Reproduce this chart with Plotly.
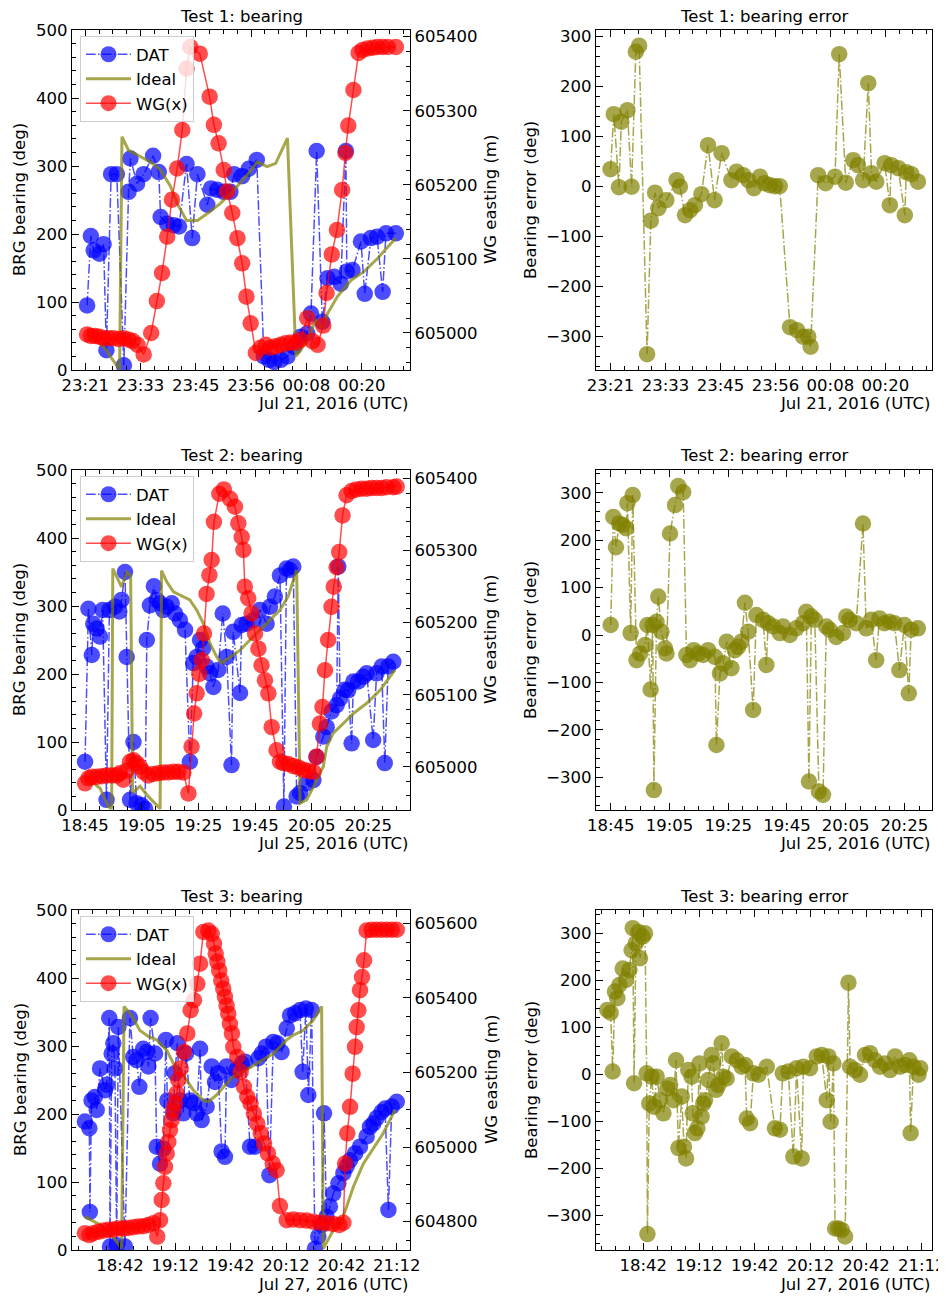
import plotly.graph_objects as go

# ---------------- DATA ----------------
# Times are minutes after 23:00 (test 1) or after 18:00 (tests 2 and 3)

# ---- Test 1 (Jul 21, 2016) ----
t1_dat_t = [21.4, 22.2, 22.8, 24.0, 24.9, 25.5, 26.5, 27.7, 29.2, 30.2, 30.6, 32.0, 33.4, 35.4, 36.6,
            37.0, 38.4, 39.8, 40.9, 42.5, 43.7, 44.8, 46.9, 47.7, 49.0, 50.4, 51.8, 52.6, 54.3, 55.7,
            57.4, 58.9, 60.0, 61.1, 62.5, 63.9, 65.3, 66.7, 68.1, 68.9, 70.1, 71.3, 72.4, 73.8, 75.2,
            76.3, 76.5, 77.7, 79.5, 80.3, 81.6, 82.9, 84.1, 84.8, 86.9]
t1_dat_v = [95, 197, 176, 171, 185, 29, 288, 288, 7, 262, 311, 274, 288, 315, 291,
            225, 215, 213, 211, 303, 194, 288, 243, 267, 265, 262, 262, 288, 285, 296,
            309, 20, 15, 12, 15, 20, 34, 49, 54, 83, 322, 71, 135, 137, 127,
            322, 145, 147, 189, 112, 194, 196, 115, 201, 201]
t1_ideal_t = [21.4, 22.2, 24.0, 25.5, 26.5, 27.7, 28.3, 28.8, 30.2, 32.7, 34.8, 37.0, 39.1, 40.5, 42.5,
              44.8, 46.9, 49.7, 52.6, 55.4, 57.5, 59.6, 61.4, 63.9, 65.7, 66.7, 68.1, 69.9, 71.3, 72.4,
              74.5, 77.4, 80.2, 83.0, 86.9]
t1_ideal_v = [60, 52, 40, 29, 18, 6, 1, 343, 323, 314, 306, 294, 270, 245, 220,
              220, 230, 245, 265, 287, 306, 299, 304, 341, 20, 29, 44, 73, 61, 83,
              108, 132, 145, 164, 194]
t1_wg_t = [21.4, 22.2, 23.1, 24.0, 24.9, 26.0, 27.0, 28.1, 29.2, 30.2, 31.1, 32.1, 33.4, 35.0, 36.2,
           37.3, 38.4, 39.4, 40.5, 41.6, 42.5, 43.3, 45.3, 47.4, 48.3, 49.3, 50.4, 51.1, 52.2, 53.3,
           54.3, 55.2, 56.1, 57.2, 58.2, 59.3, 60.3, 61.4, 62.5, 63.5, 64.6, 65.7, 66.7, 68.1, 69.2,
           70.3, 71.5, 72.2, 73.3, 74.4, 75.5, 76.2, 76.8, 77.9, 79.0, 79.8, 80.9, 82.0, 83.0, 84.1,
           85.2, 86.9]
t1_wg_v = [604998, 604996, 604996, 604995, 604993, 604993, 604993, 604992, 604993, 604991, 604989, 604984,
           604971, 605000, 605043, 605081, 605130, 605180, 605222, 605274, 605357, 605386, 605377, 605319,
           605281, 605256, 605220, 605191, 605162, 605128, 605094, 605049, 605013, 604973, 604980, 604984,
           604980, 604982, 604984, 604986, 604987, 604987, 604991, 605020, 604989, 604984, 605010, 605054,
           605106, 605139, 605193, 605243, 605280, 605328, 605378, 605382, 605384, 605385, 605386, 605386,
           605386, 605386]
t1_err_t = [21.0, 21.7, 22.8, 23.3, 24.6, 25.5, 26.4, 27.1, 28.8, 29.6, 30.5, 31.2, 32.9, 35.1, 35.8,
            36.9, 38.0, 39.0, 40.4, 41.8, 43.2, 44.7, 46.8, 47.9, 49.3, 50.4, 51.6, 52.9, 53.9, 55.0,
            56.1, 57.1, 59.3, 60.8, 62.1, 63.2, 63.7, 65.3, 66.9, 68.9, 69.8, 71.2, 72.8, 73.8, 74.9,
            76.0, 76.7, 77.7, 79.5, 80.6, 80.9, 82.4, 83.8, 84.1, 85.2, 86.6]
t1_err_v = [35, 145, -1, 130, 153, 0, 270, 282, -335, -68, -12, -43, -27, 13, 0,
            -57, -47, -37, -15, 83, -27, 67, 13, 30, 23, 13, -3, 20, 7, 3,
            1, 1, -281, -287, -300, -300, -320, 23, 7, 20, 265, 8, 53, 43, 13,
            207, 27, 10, 47, -37, 43, 37, -57, 29, 25, 10]

# ---- Test 2 (Jul 25, 2016) ----
t2_dat_t = [45.0, 46.2, 47.4, 47.9, 49.1, 50.3, 51.2, 52.6, 53.6, 55.6, 57.1, 57.9, 59.1, 59.7, 60.9,
            62.1, 63.2, 65.0, 66.2, 66.8, 67.9, 69.3, 70.3, 71.5, 72.6, 73.8, 75.6, 76.8, 78.5, 80.3,
            82.0, 83.2, 84.4, 85.6, 86.7, 87.9, 89.1, 90.3, 92.0, 93.6, 95.0, 96.7, 97.3, 99.7, 100.3,
            102.0, 104.4, 106.7, 109.1, 110.3, 112.0, 113.8, 115.2, 116.1, 117.3, 118.5, 119.7, 120.9,
            123.2, 125.6, 126.7, 129.1, 130.3, 132.0, 133.8, 134.4, 135.0, 136.7, 137.9, 139.1, 139.7,
            141.4, 143.2, 144.4, 146.7, 147.9, 149.7, 150.8, 152.0, 153.8]
t2_dat_v = [71, 296, 228, 274, 267, 255, 294, 15, 294, 299, 292, 309, 350, 225, 15,
            100, 10, 7, 2, 250, 301, 329, 309, 304, 294, 299, 304, 289, 279, 265,
            71, 216, 225, 250, 238, 211, 201, 181, 206, 289, 225, 66, 262, 172, 272,
            274, 279, 294, 274, 299, 314, 345, 5, 355, 353, 358, 20, 25,
            39, 44, 78, 108, 122, 145, 154, 358, 164, 177, 176, 98, 189,
            189, 196, 201, 103, 201, 211, 69, 211, 218]
t2_ideal_t = [45.0, 50.3, 53.2, 54.4, 54.8, 57.9, 59.7, 61.1, 61.8, 64.4, 67.3, 71.5, 72.0, 73.8, 76.2,
              79.7, 82.0, 84.4, 86.7, 89.1, 91.5, 93.2, 96.2, 99.7, 103.2, 106.7, 110.3, 113.8, 116.7,
              119.7, 120.9, 123.2, 125.6, 129.1, 130.3, 132.6, 136.1, 139.7, 144.4, 149.1, 154.4]
t2_ideal_v = [49, 32, 5, 2, 355, 328, 350, 345, 25, 35, 20, 2, 352, 336, 321,
              314, 309, 294, 275, 245, 225, 216, 225, 235, 250, 265, 279, 294, 314,
              353, 10, 15, 34, 64, 93, 113, 127, 142, 157, 176, 206]
t2_wg_t = [45.0, 46.2, 47.4, 49.1, 50.9, 52.6, 54.4, 56.2, 57.3, 58.5, 59.7, 60.9, 62.1, 63.2, 64.4,
           65.6, 67.3, 69.1, 70.9, 72.6, 74.4, 76.2, 77.9, 79.7, 81.5, 82.6, 83.5, 84.4, 85.3, 86.2,
           87.0, 87.9, 88.9, 89.7, 90.5, 92.4, 94.0, 96.2, 97.9, 99.1, 100.3, 100.9, 101.4, 102.6, 103.8,
           105.0, 106.2, 107.3, 108.5, 109.7, 110.9, 112.6, 113.8, 115.0, 116.7, 118.5, 120.3, 122.0,
           123.8, 125.6, 126.7, 127.9, 128.8, 129.7, 130.8, 132.0, 132.8, 133.8, 134.7, 135.9, 137.3,
           139.1, 140.8, 142.6, 144.4, 146.1, 147.9, 149.7, 151.4, 153.8, 155.0]
t2_wg_v = [604977, 604984, 604986, 604986, 604987, 604988, 604988, 604988, 604991, 604982, 604995, 605007,
           605009, 605005, 605000, 604993, 604988, 604990, 604991, 604992, 604992, 604993, 604993, 604992,
           604963, 605028, 605074, 605102, 605129, 605148, 605185, 605240, 605266, 605287, 605340, 605379,
           605385, 605372, 605361, 605338, 605319, 605301, 605250, 605234, 605213, 605185, 605164, 605141,
           605120, 605102, 605055, 605023, 605007, 605005, 605004, 605001, 604999, 604996, 604994, 604993,
           605014, 605060, 605083, 605134, 605176, 605222, 605250, 605277, 605298, 605349, 605377, 605383,
           605385, 605386, 605386, 605387, 605387, 605387, 605388, 605388, 605389]
t2_err_t = [45.0, 45.9, 46.8, 47.9, 49.1, 50.2, 50.7, 51.8, 52.5, 53.8, 55.0, 56.7, 57.5, 58.6, 59.3,
            59.7, 60.6, 61.2, 62.3, 63.5, 64.0, 65.2, 66.9, 68.0, 69.7, 70.8, 72.0, 73.3, 74.8, 76.5,
            78.2, 80.5, 81.0, 82.2, 83.3, 84.5, 86.1, 87.3, 88.4, 89.5, 90.7, 91.8, 93.5, 94.6, 96.9,
            98.0, 98.6, 100.3, 102.6, 103.7, 106.0, 108.2, 110.5, 111.6, 112.5, 113.3, 114.5, 115.9,
            117.3, 118.4, 119.6, 121.8, 124.1, 125.2, 126.3, 128.6, 130.9, 132.0, 133.7, 135.4, 136.5,
            138.2, 139.9, 141.6, 143.3, 145.0, 146.5, 147.3, 149.6]
t2_err_v = [21, 249, 185, 235, 232, 225, 278, 4, 295, -53, -39, -21, 21, -115, 21,
            -327, 28, 81, 7, -28, -39, 214, 274, 314, 301, -42, -53, -32, -39, -42,
            -32, -46, -232, -81, -60, -14, -70, -32, -25, -14, 68, 7, -158, 42, 32,
            -63, 25, 18, 4, 18, 0, 14, 25, 49, -309, 39, 32, -330,
            -337, 18, 11, -4, 4, 39, 32, 25, 235, 14, 32, -53, 35,
            25, 28, 25, -74, 21, -123, 11, 14]

# ---- Test 3 (Jul 27, 2016) ----
t3_dat_t = [23.0, 25.4, 25.7, 26.6, 28.4, 29.4, 31.2, 33.9, 34.8, 36.2, 36.6, 37.5, 38.4, 39.3, 40.2,
            41.1, 44.7, 47.4, 49.2, 51.0, 52.5, 54.6, 56.5, 57.4, 58.6, 61.0, 61.9, 63.7, 65.5, 66.9,
            67.7, 70.9, 71.8, 73.1, 74.5, 76.3, 77.8, 79.9, 81.8, 83.6, 85.4, 86.3, 89.0, 91.7, 93.5,
            95.3, 97.1, 98.9, 99.8, 102.5, 105.2, 108.0, 109.8, 112.5, 115.2, 117.0, 118.8, 121.1, 123.0,
            125.1, 127.3, 129.6, 132.4, 134.2, 136.9, 139.6, 141.0, 142.8, 144.1, 145.9, 147.7, 149.5,
            151.3, 152.6, 154.0, 155.8, 157.6, 160.4, 163.1, 164.9, 166.7, 169.4, 172.1, 175.7, 177.5,
            179.3, 181.1, 183.8, 185.7, 187.5, 189.3, 192.0]
t3_dat_v = [189, 179, 56, 220, 225, 206, 267, 235, 243, 341, 5, 289, 304, 267, 7,
            328, 5, 341, 284, 279, 240, 296, 291, 270, 341, 289, 152, 127, 149, 309,
            220, 201, 260, 304, 220, 201, 289, 220, 216, 201, 296, 191, 211, 270, 247,
            260, 145, 137, 270, 250, 265, 274, 277, 152, 152, 282, 289, 299, 110,
            306, 304, 291, 326, 345, 348, 353, 262, 355, 228, 353, 2, 20,
            37, 201, 49, 64, 83, 98, 113, 123, 132, 142, 152, 167, 181,
            186, 194, 203, 208, 59, 211, 218]
t3_ideal_t = [23.0, 31.2, 36.6, 42.9, 44.2, 48.3, 52.8, 57.4, 61.9, 67.3, 72.7, 76.3, 81.8, 87.2, 89.9,
              94.4, 99.8, 103.4, 110.7, 117.9, 125.1, 132.4, 136.0, 141.4, 146.8, 151.3, 152.2, 157.6,
              162.2, 164.9, 168.5, 173.9, 179.3, 184.8, 191.1]
t3_ideal_v = [49, 37, 25, 2, 358, 345, 323, 314, 309, 294, 265, 257, 235, 220, 218,
              228, 245, 255, 265, 277, 289, 309, 316, 323, 338, 358, 2, 29,
              44, 64, 93, 127, 149, 172, 206]
t3_wg_t = [23.0, 25.4, 27.5, 30.3, 33.0, 35.7, 38.4, 41.1, 43.8, 46.5, 49.2, 51.9, 54.6, 57.4, 60.1,
           62.2, 63.7, 64.6, 65.5, 66.4, 67.3, 68.2, 69.1, 70.0, 70.9, 71.8, 72.7, 73.6, 74.9, 76.7,
           78.5, 80.3, 82.1, 83.9, 85.4, 87.2, 89.9, 91.7, 93.0, 93.9, 94.8, 95.8, 96.9, 98.0, 98.9,
           99.8, 100.7, 101.6, 102.7, 103.4, 105.6, 107.4, 109.2, 111.0, 112.8, 114.6, 116.4, 118.3,
           120.1, 122.2, 124.8, 126.9, 128.7, 132.4, 136.0, 139.6, 143.2, 146.8, 150.4, 154.0, 157.6,
           160.9, 163.1, 164.0, 165.2, 166.7, 168.1, 169.4, 170.3, 171.2, 172.1, 173.2, 174.3, 175.7,
           178.4, 181.1, 183.8, 186.6, 189.3, 192.0]
t3_wg_v = [604769, 604764, 604769, 604773, 604776, 604778, 604779, 604782, 604782, 604783, 604785, 604787,
           604788, 604791, 604796, 604760, 604804, 604858, 604903, 604947, 604983, 605014, 605046, 605072,
           605099, 605117, 605144, 605180, 605211, 605255, 605305, 605367, 605394, 605438, 605492, 605577,
           605581, 605572, 605546, 605519, 605497, 605474, 605447, 605425, 605403, 605380, 605358, 605331,
           605305, 605269, 605242, 605202, 605162, 605135, 605117, 605090, 605063, 605037, 605010, 604983,
           604956, 604938, 604842, 604804, 604806, 604804, 604803, 604800, 604797, 604796, 604794, 604791,
           604797, 604956, 605037, 605108, 605197, 605269, 605322, 605367, 605421, 605456, 605501, 605581,
           605583, 605583, 605583, 605583, 605583, 605583]
t3_err_t = [22.6, 24.4, 25.5, 26.7, 28.0, 29.1, 30.9, 32.7, 34.5, 35.7, 36.3, 37.0, 38.0, 39.3, 40.2,
            41.6, 42.9, 43.8, 44.2, 45.2, 46.5, 47.7, 49.2, 51.0, 52.8, 54.9, 56.4, 58.2, 59.6, 60.9,
            62.7, 63.9, 65.0, 66.2, 68.0, 68.6, 69.8, 71.1, 72.2, 73.4, 74.3, 75.2, 77.0, 78.8, 79.7,
            81.2, 82.4, 84.2, 85.1, 86.9, 89.6, 92.3, 95.0, 96.8, 97.7, 99.5, 101.3, 104.0, 108.5, 112.9,
            115.6, 117.1, 120.1, 122.8, 124.6, 127.3, 128.2, 131.8, 135.4, 138.1, 140.8, 141.7, 142.9,
            144.4, 145.3, 147.1, 148.9, 150.7, 152.5, 153.4, 156.0, 158.7, 161.4, 164.1, 166.8, 169.5,
            172.2, 174.9, 177.6, 180.3, 183.0, 185.3, 186.0, 187.5, 190.2, 191.1]
t3_err_v = [137, 131, 6, 176, 162, 190, 225, 201, 222, 264, 311, -19, 279, 303, 247,
            293, 300, 2, -340, -62, -5, -69, -5, -55, -83, -30, -23, -55, 30, -157,
            -47, -154, -179, 9, -5, -83, -125, -115, 23, -90, -62, -55, -12, 41, 23,
            -33, -23, 66, -5, -9, 38, 30, 16, 20, -94, -104, 2, -1, 16, -115,
            -118, 2, 6, -175, 13, -179, 16, 13, 38, 41, -55, 38, -101,
            23, -328, -328, -331, -345, 195, 16, 9, -1, 41, 45, 30, 16,
            23, 9, 38, 16, 20, 30, -125, 16, -1, 13]

# Tick labels
t1_ticktext = ["23:21", "23:33", "23:45", "23:56", "00:08", "00:20"]
t2_ticktext = ["18:45", "19:05", "19:25", "19:45", "20:05", "20:25"]
t3_ticktext = ["18:42", "19:12", "19:42", "20:12", "20:42", "21:12"]
dates = ["Jul 21, 2016 (UTC)", "Jul 25, 2016 (UTC)", "Jul 27, 2016 (UTC)"]

# ---------------- LAYOUT / STYLE ----------------
VW, VH = 946, 1299          # browser window
OFF = 8                      # default page margin around the plot div
W, H = VW - OFF, VH - OFF    # figure size so that it ends at the window edge
FONT = "DejaVu Sans"
FS = 16.5
BLUE = "rgba(0,0,255,0.7)"
RED = "rgba(255,0,0,0.7)"
OLIVE = "rgba(128,128,0,0.7)"
DASHDOT = "9.6px,2.4px,1.5px,2.4px"
MS = 16.5

# panel geometry in window pixels
LEFT = (72, 410)
RIGHT = (596, 932)
ROWS = [(30, 370), (470, 810), (910, 1250)]

tests = [
    dict(dat=(t1_dat_t, t1_dat_v), ideal=(t1_ideal_t, t1_ideal_v), wg=(t1_wg_t, t1_wg_v),
         err=(t1_err_t, t1_err_v), ticktext=t1_ticktext, tick0=21.0, tstep=11.73,
         xl=[18.2, 89.9], xr=[17.9, 89.6], wgr=[604950, 605409], wgstep=100, wgminor=20,
         er=[-366.6, 313.4]),
    dict(dat=(t2_dat_t, t2_dat_v), ideal=(t2_ideal_t, t2_ideal_v), wg=(t2_wg_t, t2_wg_v),
         err=(t2_err_t, t2_err_v), ticktext=t2_ticktext, tick0=45.0, tstep=20.0,
         xl=[40.4, 159.7], xr=[40.0, 154.4], wgr=[604940, 605412], wgstep=100, wgminor=20,
         er=[-369.0, 347.9]),
    dict(dat=(t3_dat_t, t3_dat_v), ideal=(t3_ideal_t, t3_ideal_v), wg=(t3_wg_t, t3_wg_v),
         err=(t3_err_t, t3_err_v), ticktext=t3_ticktext, tick0=42.0, tstep=30.0,
         xl=[16.0, 199.2], xr=[16.5, 197.5], wgr=[604724, 605636], wgstep=200, wgminor=50,
         er=[-373.8, 349.6]),
]


def name(kind, n):
    return kind if n == 1 else f"{kind}{n}"


def fx(p):
    return (p - OFF) / W


def fy(p):
    return 1 - (p - OFF) / H


tickfont = dict(family=FONT, size=FS, color="black")
fig = go.Figure()
layout = {}
annotations = []

for i, T in enumerate(tests):
    xl, xr = 2 * i + 1, 2 * i + 2
    yl, y2, yr = 3 * i + 1, 3 * i + 2, 3 * i + 3
    top, bot = ROWS[i]
    leg = name("legend", i + 1)
    tickvals = [T["tick0"] + k * T["tstep"] for k in range(len(T["ticktext"]))]

    # traces: left panel
    fig.add_trace(go.Scatter(x=T["dat"][0], y=T["dat"][1], name="DAT", mode="lines+markers",
                             line=dict(color=BLUE, width=1.5, dash=DASHDOT),
                             marker=dict(color=BLUE, size=MS, line=dict(width=0)),
                             xaxis=name("x", xl), yaxis=name("y", yl), legend=leg))
    fig.add_trace(go.Scatter(x=T["ideal"][0], y=T["ideal"][1], name="Ideal", mode="lines",
                             line=dict(color=OLIVE, width=3),
                             xaxis=name("x", xl), yaxis=name("y", yl), legend=leg))
    fig.add_trace(go.Scatter(x=T["wg"][0], y=T["wg"][1], name="WG(x)", mode="lines+markers",
                             line=dict(color=RED, width=1.5),
                             marker=dict(color=RED, size=MS, line=dict(width=0)),
                             xaxis=name("x", xl), yaxis=name("y", y2), legend=leg))
    # right panel
    fig.add_trace(go.Scatter(x=T["err"][0], y=T["err"][1], mode="lines+markers", showlegend=False,
                             line=dict(color=OLIVE, width=1.5, dash=DASHDOT),
                             marker=dict(color=OLIVE, size=MS, line=dict(width=0)),
                             xaxis=name("x", xr), yaxis=name("y", yr)))

    common = dict(ticks="inside", ticklen=7, tickwidth=1, tickcolor="black",
                  showline=True, linecolor="black", linewidth=1.2, automargin=False,
                  showgrid=False, zeroline=False, tickfont=tickfont)

    def xaxis_def(dom, rng, anchor):
        d = dict(common)
        d.update(domain=dom, range=rng, anchor=anchor, tickmode="array",
                 tickvals=tickvals, ticktext=T["ticktext"], mirror="ticks",
                 minor=dict(ticks="inside", ticklen=4, tickwidth=1, tickcolor="black",
                            tickmode="linear", tick0=T["tick0"], dtick=T["tstep"] / 4,
                            showgrid=False))
        return d

    layout[name("xaxis", xl)] = xaxis_def([fx(LEFT[0]), fx(LEFT[1])], T["xl"], name("y", yl))
    layout[name("xaxis", xr)] = xaxis_def([fx(RIGHT[0]), fx(RIGHT[1])], T["xr"], name("y", yr))

    d = dict(common)
    d.update(domain=[fy(bot), fy(top)], range=[0, 500], anchor=name("x", xl), side="left",
             tickmode="linear", tick0=0, dtick=100, mirror=False,
             minor=dict(ticks="inside", ticklen=4, tickwidth=1, tickcolor="black",
                        tickmode="linear", tick0=0, dtick=20, showgrid=False))
    layout[name("yaxis", yl)] = d

    d = dict(common)
    d.update(range=T["wgr"], anchor=name("x", xl), overlaying=name("y", yl), side="right",
             tickmode="linear", tick0=605000, dtick=T["wgstep"], tickformat="d",
             minor=dict(ticks="inside", ticklen=4, tickwidth=1, tickcolor="black",
                        tickmode="linear", tick0=605000, dtick=T["wgminor"], showgrid=False))
    layout[name("yaxis", y2)] = d

    d = dict(common)
    d.update(domain=[fy(bot), fy(top)], range=T["er"], anchor=name("x", xr), side="left",
             tickmode="linear", tick0=0, dtick=100, mirror=True,
             minor=dict(ticks="inside", ticklen=4, tickwidth=1, tickcolor="black",
                        tickmode="linear", tick0=0, dtick=20, showgrid=False))
    layout[name("yaxis", yr)] = d

    layout[leg] = dict(x=fx(80), y=fy(top + 6), xanchor="left", yanchor="top",
                       bgcolor="rgba(255,255,255,0.8)", bordercolor="#cccccc", borderwidth=1,
                       font=dict(family=FONT, size=FS, color="black"), itemwidth=45,
                       tracegroupgap=0)

    txt = dict(family=FONT, size=FS, color="black")
    mid = (top + bot) / 2
    annotations += [
        dict(text=f"Test {i+1}: bearing", x=fx((LEFT[0] + LEFT[1]) / 2), y=fy(top - 14),
             xref="paper", yref="paper", showarrow=False, font=txt, xanchor="center", yanchor="middle"),
        dict(text=f"Test {i+1}: bearing error", x=fx((RIGHT[0] + RIGHT[1]) / 2), y=fy(top - 14),
             xref="paper", yref="paper", showarrow=False, font=txt, xanchor="center", yanchor="middle"),
        dict(text=dates[i], x=fx(LEFT[1]), y=fy(bot + 34), xref="paper", yref="paper",
             showarrow=False, font=txt, xanchor="right", yanchor="middle"),
        dict(text=dates[i], x=fx(RIGHT[1]), y=fy(bot + 34), xref="paper", yref="paper",
             showarrow=False, font=txt, xanchor="right", yanchor="middle"),
        dict(text="BRG bearing (deg)", x=fx(20), y=fy(mid), xref="paper", yref="paper",
             showarrow=False, font=txt, textangle=-90, xanchor="center", yanchor="middle"),
        dict(text="WG easting (m)", x=fx(491), y=fy(mid), xref="paper", yref="paper",
             showarrow=False, font=txt, textangle=-90, xanchor="center", yanchor="middle"),
        dict(text="Bearing error (deg)", x=fx(531), y=fy(mid), xref="paper", yref="paper",
             showarrow=False, font=txt, textangle=-90, xanchor="center", yanchor="middle"),
    ]

fig.update_layout(width=W, height=H,
                  margin=dict(l=0, r=0, t=0, b=0, pad=0, autoexpand=False),
                  paper_bgcolor="white", plot_bgcolor="white",
                  font=dict(family=FONT, size=FS, color="black"),
                  annotations=annotations, **layout)

fig.write_html("out.html")
